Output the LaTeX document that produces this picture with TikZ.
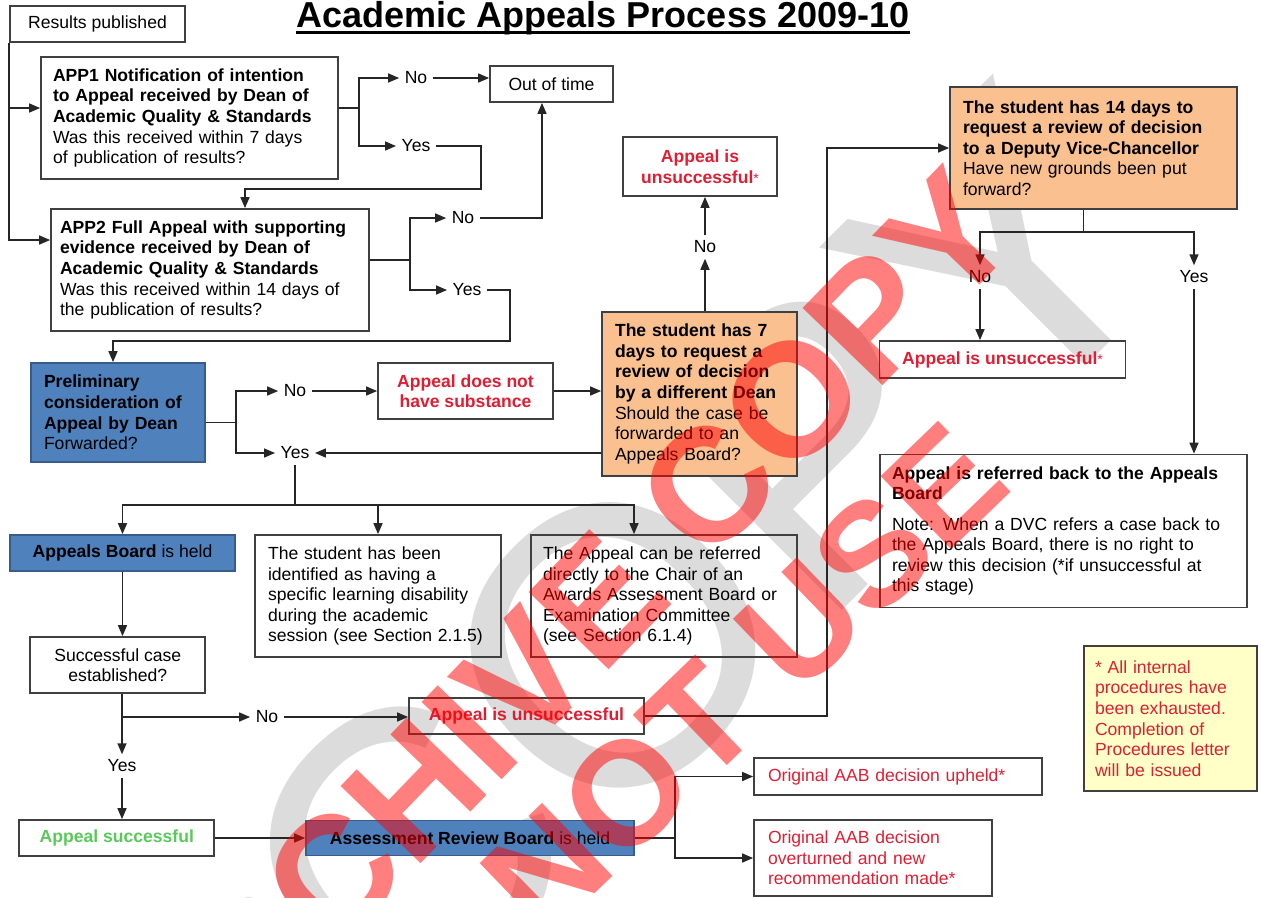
\documentclass[tikz,border=0pt]{standalone}
\usepackage{fontspec}
\setmainfont{Liberation Sans}
\usepackage{tikz}
\usetikzlibrary{arrows.meta, positioning, calc}

\definecolor{boxline}{RGB}{64,64,64}
\definecolor{orangefill}{RGB}{250,192,143}
\definecolor{bluefill}{RGB}{79,129,189}
\definecolor{blueline}{RGB}{56,93,138}
\definecolor{notefill}{RGB}{255,255,200}
\definecolor{apred}{RGB}{222,30,50}
\definecolor{apgreen}{RGB}{90,200,90}

\newcommand{\apstar}{\textnormal{\footnotesize *}}

\begin{document}
\begin{tikzpicture}[
    x=0.02cm, y=-0.02cm,
    every node/.style={font=\fontsize{10}{11.7}\selectfont},
    stepbox/.style={draw=boxline, line width=1pt, rectangle, inner sep=0pt},
    lbox/.style={stepbox, align=left, inner xsep=0.24cm},
    cbox/.style={stepbox, align=center},
    orangebox/.style={lbox, fill=orangefill},
    bluebox/.style={fill=bluefill, draw=blueline},
    redtxt/.style={text=apred},
    redbold/.style={text=apred, font=\fontsize{10}{11.7}\selectfont\bfseries},
    headline/.style={anchor=base, inner sep=0pt, font=\fontsize{20.5}{24}\selectfont\bfseries},
    lbl/.style={inner sep=3pt},
    link/.style={draw=black!85, line width=0.85pt},
    arr/.style={link, -{Triangle[length=2.2mm, width=1.8mm]}},
    wmgrey/.style={inner sep=0pt, text=gray, text opacity=0.28, font=\fontsize{225}{225}\selectfont},
    wmred/.style={inner sep=0pt, text=red, text opacity=0.5}
  ]
  \useasboundingbox (0,0) rectangle (1261,897);

  % grey stamp sits behind the chart
  \node[wmgrey, rotate=45] (stampgrey) at (700,560) {COPY};

  % title
  \node[headline] (title) at (603,27) {Academic Appeals Process 2009-10};
  \draw[line width=1.5pt] ([yshift=-3pt]title.base west) -- ([yshift=-3pt]title.base east);

  % first stage: notification and full appeal
  \node[cbox, minimum width=3.5cm, minimum height=0.72cm] (res) at (97.5,24) {Results published};
  \node[lbox, text width=5.46cm, minimum height=2.44cm] (app1) at (189.5,118)
    {{\bfseries APP1 Notification of intention\\ to Appeal received by Dean of\\ Academic Quality \& Standards}\\ Was this received within 7 days\\ of publication of results?};
  \node[cbox, minimum width=2.46cm, minimum height=0.72cm] (oot) at (551.5,84) {Out of time};
  \node[lbox, text width=6.0cm, inner xsep=0.18cm, minimum height=2.44cm] (app2) at (210,270)
    {{\bfseries APP2 Full Appeal with supporting\\ evidence received by Dean of\\ Academic Quality \& Standards}\\ Was this received within 14 days of\\ the publication of results?};

  % reviews
  \node[cbox, redbold, minimum width=3.08cm, minimum height=1.18cm] (unsA) at (700,166.5) {Appeal is\\ unsuccessful\apstar};
  \node[orangebox, text width=5.22cm, inner xsep=0.26cm, minimum height=2.44cm] (dvc) at (1093.5,148)
    {{\bfseries The student has 14 days to\\ request a review of decision\\ to a Deputy Vice-Chancellor}\\ Have new grounds been put\\ forward?};
  \node[orangebox, text width=3.38cm, inner xsep=0.26cm, minimum height=3.28cm] (dean7) at (699.5,394)
    {{\bfseries The student has 7\\ days to request a\\ review of decision\\ by a different Dean}\\ Should the case be\\ forwarded to an\\ Appeals Board?};
  \node[lbox, bluebox, text width=2.96cm, inner xsep=0.26cm, minimum height=1.98cm] (prelim) at (118,412.5)
    {{\bfseries Preliminary\\ consideration of\\ Appeal by Dean}\\ Forwarded?};
  \node[cbox, redbold, minimum width=3.5cm, minimum height=1.12cm] (nosub) at (465.5,391) {Appeal does not\\ have substance};
  \node[cbox, redbold, minimum width=4.92cm, minimum height=0.74cm] (unsB) at (1002.5,359.5) {Appeal is unsuccessful\apstar};
  \node[lbox, text width=6.86cm, minimum height=3.06cm] (referred) at (1063.5,531)
    {{\bfseries Appeal is referred back to the Appeals\\ Board}\\[0.2cm] Note: When a DVC refers a case back to\\ the Appeals Board, there is no right to\\ review this decision (*if unsuccessful at\\ this stage)};

  % appeals board and alternatives
  \node[cbox, bluebox, minimum width=4.5cm, minimum height=0.72cm] (board) at (122.5,553) {\textbf{Appeals Board} is held};
  \node[lbox, text width=4.40cm, inner xsep=0.26cm, minimum height=2.44cm] (sld) at (378,596)
    {The student has been\\ identified as having a\\ specific learning disability\\ during the academic\\ session (see Section 2.1.5)};
  \node[lbox, text width=4.84cm, minimum height=2.44cm] (chair) at (664,596)
    {The Appeal can be referred\\ directly to the Chair of an\\ Awards Assessment Board or\\ Examination Committee\\ (see Section 6.1.4)};
  \node[cbox, minimum width=3.5cm, minimum height=1.12cm] (case) at (117.8,665) {Successful case\\ established?};
  \node[cbox, redbold, minimum width=4.7cm, minimum height=0.72cm] (unsC) at (526.5,716) {Appeal is unsuccessful};
  \node[cbox, text=apgreen, font=\fontsize{10}{11.7}\selectfont\bfseries, minimum width=3.9cm, minimum height=0.72cm] (success) at (116.8,838) {Appeal successful};
  \node[cbox, bluebox, minimum width=6.56cm, minimum height=0.7cm] (arb) at (470,838) {\textbf{Assessment Review Board} is held};
  \node[lbox, redtxt, text width=5.2cm, inner xsep=0.28cm, minimum height=0.74cm] (upheld) at (898,776.5) {Original AAB decision upheld*};
  \node[lbox, redtxt, text width=4.2cm, inner xsep=0.28cm, minimum height=1.52cm] (overturned) at (873,858)
    {Original AAB decision\\ overturned and new\\ recommendation made*};
  \node[lbox, redtxt, fill=notefill, text width=3.02cm, inner xsep=0.22cm, minimum height=2.9cm] (note) at (1170.5,718.5)
    {* All internal\\ procedures have\\ been exhausted.\\ Completion of\\ Procedures letter\\ will be issued};

  % decision labels
  \node[lbl] (noA) at (416,78) {No};
  \node[lbl] (yesA) at (416,146) {Yes};
  \node[lbl] (noB) at (463,218) {No};
  \node[lbl] (yesB) at (467,290) {Yes};
  \node[lbl] (noC) at (705,247) {No};
  \node[lbl] (noD) at (295,391) {No};
  \node[lbl] (yesD) at (295,453) {Yes};
  \node[lbl] (noE) at (980,277) {No};
  \node[lbl] (yesE) at (1194,277) {Yes};
  \node[lbl] (noF) at (267,717) {No};
  \node[lbl] (yesF) at (122,766) {Yes};

  % helper points on the box sides
  \coordinate (app1in) at ([yshift=0.2cm]app1.west);
  \coordinate (app2in) at ([yshift=0.6cm]app2.west);
  \coordinate (app1out) at ([yshift=0.2cm]app1.east);
  \coordinate (fork1) at ([xshift=0.4cm]app1out);
  \coordinate (app2out) at ([yshift=0.2cm]app2.east);
  \coordinate (fork2) at ([xshift=0.8cm]app2out);
  \coordinate (prelimout) at ([yshift=-0.2cm]prelim.east);
  \coordinate (fork3) at ([xshift=0.6cm]prelimout);
  \coordinate (bus) at (yesD.south |- 0,505);
  \coordinate (fork4) at ([xshift=0.8cm]arb.east);
  \coordinate (fork5) at ([xshift=-0.2cm,yshift=-0.44cm]dvc.south);

  % results published
  \draw[arr] (res.south west) |- (app2in);
  \draw[arr] (res.west |- app1in) -- (app1in);

  % APP1 outcome
  \draw[link] (app1out) -- (fork1);
  \draw[arr] (fork1) |- (noA.west);
  \draw[arr] (fork1) |- (yesA.west);
  \draw[arr] (noA.east) -- (noA.east -| oot.west);
  \draw[arr] (yesA.east) -| (481,189) -| ([xshift=0.7cm]app2.north);

  % APP2 outcome
  \draw[link] (app2out) -- (fork2);
  \draw[arr] (fork2) |- (noB.west);
  \draw[arr] (fork2) |- (yesB.west);
  \draw[arr] (noB.east) -| ([xshift=-0.19cm]oot.south);
  \draw[arr] (yesB.east) -| (510,341) -| ([xshift=-0.1cm]prelim.north);

  % preliminary consideration
  \draw[link] (prelimout) -- (fork3);
  \draw[arr] (fork3) |- (noD.west);
  \draw[arr] (fork3) |- (yesD.west);
  \draw[arr] (noD.east) -- (noD.east -| nosub.west);
  \draw[arr] (nosub.east) -- (nosub.east -| dean7.west);
  \draw[arr] (dean7.west |- yesD) -- (yesD.east);
  \draw[arr] (noC.south |- dean7.north) -- (noC.south);
  \draw[arr] (noC.north) -- (noC.north |- unsA.south);

  % appeal forwarded
  \draw[link] (yesD.south) -- (bus);
  \draw[arr] (bus) -| (board.north);
  \draw[arr] (bus) -| (sld.north);
  \draw[arr] (bus) -| ([xshift=-0.6cm]chair.north);
  \draw[arr] (board.south) -- (board.south |- case.north);
  \draw[arr] (yesF.north |- case.south) -- (yesF.north);
  \draw[arr] (yesF.north |- noF) -- (noF.west);
  \draw[arr] (noF.east) -- (noF.east -| unsC.west);
  \draw[arr] (yesF.south) -- (yesF.south |- success.north);
  \draw[arr] (success.east) -- (success.east -| arb.west);
  \draw[link] (arb.east) -- (fork4);
  \draw[arr] (fork4) |- (upheld.west);
  \draw[arr] (fork4) |- (overturned.west);

  % review by a Deputy Vice-Chancellor
  \draw[arr] (unsC.east) -| ([xshift=-2.44cm]dvc.west) -- (dvc.west);
  \draw[link] (fork5 |- dvc.south) -- (fork5);
  \draw[arr] (fork5) -| (noE.north);
  \draw[arr] (fork5) -| (yesE.north);
  \draw[arr] (noE.south) -- (noE.south |- unsB.north);
  \draw[arr] (yesE.south) -- (yesE.south |- referred.north);

  % red archive stamp on top
  \node[wmred, rotate=46, font=\fontsize{92}{92}\selectfont\bfseries] (stamparchive) at (558,642) {ARCHIVE COPY};
  \node[wmred, rotate=44, font=\fontsize{84}{84}\selectfont\bfseries] (stampdonot) at (650,770) {DO NOT USE};
\end{tikzpicture}
\end{document}
